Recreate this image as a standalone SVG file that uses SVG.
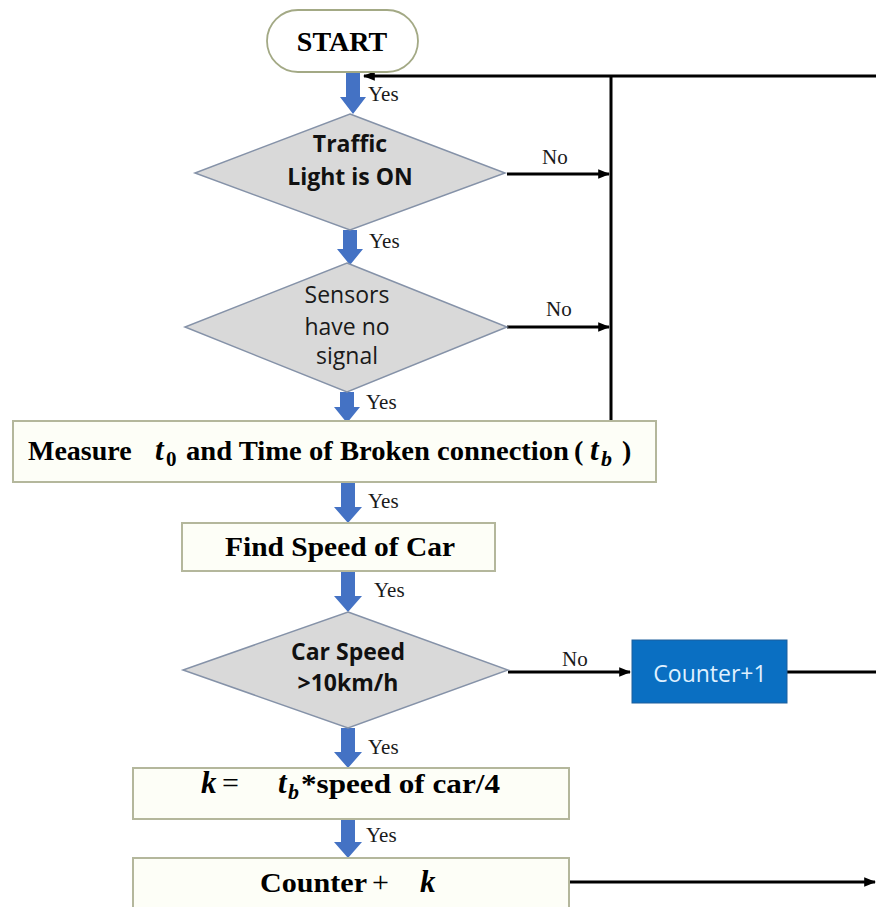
<svg xmlns="http://www.w3.org/2000/svg" width="876" height="907" viewBox="0 0 876 907">
  <style>
    .bg { fill: #ffffff; }
    .box { fill: #fdfef7; stroke: #b4b79c; stroke-width: 2; }
    .pill { fill: #ffffff; stroke: #a3a985; stroke-width: 1.8; }
    .dia { fill: #d9d9d9; stroke: #8592a8; stroke-width: 1.5; }
    .blue { fill: #0a6fc2; stroke: #1d5f9c; stroke-width: 1; }
    .flow { fill: #4472c4; }
    .line { fill: none; stroke: #000000; stroke-width: 3; }
    .serifB { font-family: "Liberation Serif", "Times New Roman", serif; font-weight: bold; font-size: 28px; fill: #000000; }
    .serif { font-family: "Liberation Serif", "Times New Roman", serif; font-size: 21px; fill: #1a1a1a; }
    .mi { font-family: "Liberation Serif", "Times New Roman", serif; font-weight: bold; font-style: italic; font-size: 31px; fill: #000000; }
    .sub { font-family: "Liberation Serif", "Times New Roman", serif; font-weight: bold; font-size: 21px; fill: #000000; }
    .subi { font-family: "Liberation Serif", "Times New Roman", serif; font-weight: bold; font-style: italic; font-size: 22px; fill: #000000; }
    .op { font-family: "Liberation Serif", "Times New Roman", serif; font-size: 30px; fill: #000000; }
    .sansB { font-family: "Open Sans", "Noto Sans", sans-serif; font-weight: bold; font-size: 23px; fill: #111111; text-anchor: middle; }
    .sans { font-family: "Open Sans", "Noto Sans", sans-serif; font-size: 23px; fill: #1a1a1a; text-anchor: middle; }
    .light { font-family: "Open Sans", "Noto Sans", sans-serif; font-size: 23px; fill: #dff0ff; text-anchor: middle; }
  </style>
  <defs>
    <marker id="ah" viewBox="0 0 10 10" refX="9" refY="5" markerWidth="4" markerHeight="4" orient="auto" markerUnits="strokeWidth">
      <path d="M0,1 L10,5 L0,9 Z" fill="#000000"/>
    </marker>
  </defs>

  <rect class="bg" x="0" y="0" width="876" height="907"/>

  <!-- black connectors: "No" branches and the loop back to the top -->
  <g id="connectors">
    <polyline class="line" points="876,76 364,76" marker-end="url(#ah)"/>
    <line class="line" x1="611" y1="76" x2="611" y2="421"/>
    <line class="line" x1="507" y1="174" x2="609" y2="174" marker-end="url(#ah)"/>
    <line class="line" x1="507" y1="327" x2="609" y2="327" marker-end="url(#ah)"/>
    <line class="line" x1="508" y1="672" x2="630" y2="672" marker-end="url(#ah)"/>
    <line class="line" x1="787" y1="672" x2="876" y2="672"/>
    <line class="line" x1="570" y1="882" x2="875" y2="882" marker-end="url(#ah)"/>

    <!-- block arrows of the main path -->
    <polygon class="flow" points="346,72 360,72 360,97 366,97 353,114 340,97 346,97"/>
    <polygon class="flow" points="343,230 357,230 357,249 363,249 350,265 337,249 343,249"/>
    <polygon class="flow" points="340,392 354,392 354,407 360,407 347,423 334,407 340,407"/>
    <polygon class="flow" points="341,483 355,483 355,507 362,507 348,523 334,507 341,507"/>
    <polygon class="flow" points="341,572 355,572 355,596 362,596 348,612 334,596 341,596"/>
    <polygon class="flow" points="341,728 355,728 355,752 362,752 348,768 334,752 341,752"/>
    <polygon class="flow" points="341,819 355,819 355,842 362,842 348,858 334,842 341,842"/>

    <text class="serif" x="368" y="101">Yes</text>
    <text class="serif" x="369" y="248">Yes</text>
    <text class="serif" x="366" y="409">Yes</text>
    <text class="serif" x="368" y="508">Yes</text>
    <text class="serif" x="374" y="597">Yes</text>
    <text class="serif" x="368" y="754">Yes</text>
    <text class="serif" x="366" y="842">Yes</text>

    <text class="serif" x="542" y="164">No</text>
    <text class="serif" x="546" y="316">No</text>
    <text class="serif" x="562" y="666">No</text>
  </g>

  <g id="start">
    <rect class="pill" x="267" y="10" width="151" height="62" rx="31" ry="31"/>
    <text class="serifB" x="342" y="51" text-anchor="middle">START</text>
  </g>

  <g id="traffic-light">
    <polygon class="dia" points="350,114 505,173 350,230 195,173"/>
    <text class="sansB" x="350" y="152">Traffic</text>
    <text class="sansB" x="350" y="185">Light is ON</text>
  </g>

  <g id="sensors">
    <polygon class="dia" points="347,263 507,327 347,392 185,327"/>
    <text class="sans" x="347" y="303">Sensors</text>
    <text class="sans" x="347" y="335">have no</text>
    <text class="sans" x="347" y="364">signal</text>
  </g>

  <g id="measure">
    <rect class="box" x="13" y="421" width="643" height="61"/>
    <text y="460"><tspan class="serifB" x="28">Measure</tspan><tspan class="mi" x="155">t</tspan><tspan class="sub" x="166" dy="6">0</tspan><tspan class="serifB" x="186" dy="-6" textLength="383" lengthAdjust="spacingAndGlyphs">and Time of Broken connection</tspan><tspan class="serifB" x="574">(</tspan><tspan class="mi" x="590">t</tspan><tspan class="subi" x="601" dy="6">b</tspan><tspan class="serifB" x="622" dy="-6">)</tspan></text>
  </g>

  <g id="find-speed">
    <rect class="box" x="182" y="523" width="313" height="48"/>
    <text class="serifB" x="340" y="556" text-anchor="middle" textLength="230" lengthAdjust="spacingAndGlyphs">Find Speed of Car</text>
  </g>

  <g id="car-speed">
    <polygon class="dia" points="348,612 508,670 348,728 183,670"/>
    <text class="sansB" x="348" y="660">Car Speed</text>
    <text class="sansB" x="348" y="691">&gt;10km/h</text>
  </g>

  <g id="counter-plus-one">
    <rect class="blue" x="632" y="640" width="155" height="63"/>
    <text class="light" x="710" y="682">Counter+1</text>
  </g>

  <g id="compute-k">
    <rect class="box" x="133" y="768" width="436" height="51"/>
    <text y="793"><tspan class="mi" x="201">k</tspan><tspan class="op" x="222">=</tspan><tspan class="mi" x="278">t</tspan><tspan class="subi" x="288" dy="6">b</tspan><tspan class="serifB" x="301" dy="-6" textLength="199" lengthAdjust="spacingAndGlyphs">*speed of car/4</tspan></text>
  </g>

  <g id="counter-plus-k">
    <rect class="box" x="133" y="858" width="436" height="52"/>
    <text y="892"><tspan class="serifB" x="260" textLength="107" lengthAdjust="spacingAndGlyphs">Counter</tspan><tspan class="op" x="372">+</tspan><tspan class="mi" x="420">k</tspan></text>
  </g>
</svg>
